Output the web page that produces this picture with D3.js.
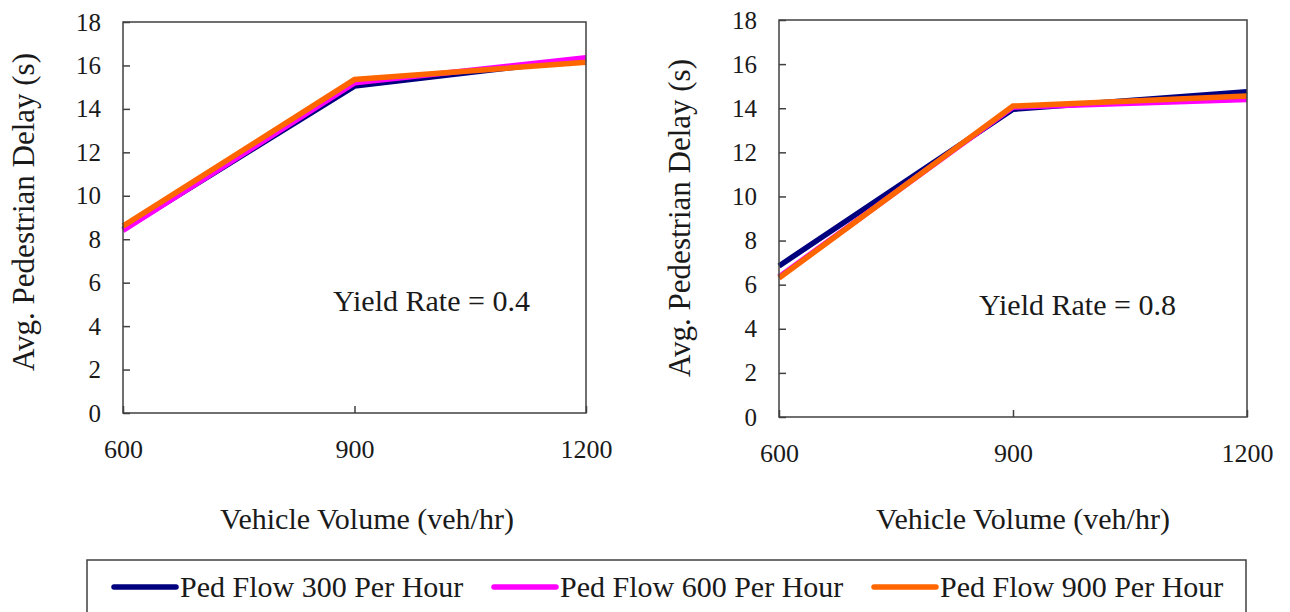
<!DOCTYPE html>
<html>
<head>
<meta charset="utf-8">
<script src="https://cdn.jsdelivr.net/npm/d3@7"></script>
<style>
  body { margin: 0; background: #fff; }
</style>
</head>
<body>
<script>
// data
var volumes = [600, 900, 1200];
var yTicks = [0, 2, 4, 6, 8, 10, 12, 14, 16, 18];
var seriesNames = ["Ped Flow 300 Per Hour", "Ped Flow 600 Per Hour", "Ped Flow 900 Per Hour"];
var seriesColors = ["#00007f", "#ff00ff", "#ff6600"];

// yield rate 0.4
var delay04_300 = [8.45, 15.05, 16.3];
var delay04_600 = [8.4, 15.2, 16.35];
var delay04_900 = [8.6, 15.35, 16.15];

// yield rate 0.8
var delay08_300 = [6.85, 13.95, 14.75];
var delay08_600 = [6.35, 14.05, 14.4];
var delay08_900 = [6.3, 14.1, 14.55];

// page size and font
var w = 1290;
var h = 612;
var serif = "'Liberation Serif', Tinos, 'Times New Roman', Times, 'DejaVu Serif', serif";
var ink = "#1a1a1a";

var svg = d3.select("body")
            .append("svg")
            .attr("width", w)
            .attr("height", h);

// draw one panel
function drawPanel(p) {
  var xScale = d3.scaleLinear()
                 .domain([600, 1200])
                 .range([p.left, p.right]);

  var yScale = d3.scaleLinear()
                 .domain([0, 18])
                 .range([p.bottom, p.top]);

  var g = svg.append("g");

  // lines first so the frame sits on top
  var line = d3.line()
               .x(function(d, i) { return xScale(volumes[i]); })
               .y(function(d) { return yScale(d); });

  for (var i = 0; i < p.series.length; i++) {
    g.append("path")
     .datum(p.series[i])
     .attr("d", line)
     .attr("fill", "none")
     .attr("stroke", seriesColors[i])
     .attr("stroke-width", 5.5);
  }

  // frame
  g.append("rect")
   .attr("x", p.left)
   .attr("y", p.top)
   .attr("width", p.right - p.left)
   .attr("height", p.bottom - p.top)
   .attr("fill", "none")
   .attr("stroke", "#404040")
   .attr("stroke-width", 1.5);

  // y axis, ticks pointing inside
  var yAxis = d3.axisLeft(yScale)
                .tickValues(yTicks)
                .tickSizeInner(-7)
                .tickSizeOuter(0)
                .tickPadding(22);

  var ya = g.append("g")
            .attr("transform", "translate(" + p.left + ",0)")
            .call(yAxis);
  ya.select(".domain").remove();
  ya.selectAll("line").attr("stroke", "#404040").attr("stroke-width", 1.5);
  ya.selectAll("text")
    .style("font-family", serif)
    .style("font-size", "25px")
    .attr("fill", ink);

  // x axis, ticks pointing inside
  var xAxis = d3.axisBottom(xScale)
                .tickValues(volumes)
                .tickSizeInner(-7)
                .tickSizeOuter(0)
                .tickPadding(27)
                .tickFormat(d3.format("d"));

  var xa = g.append("g")
            .attr("transform", "translate(0," + p.bottom + ")")
            .call(xAxis);
  xa.select(".domain").remove();
  xa.selectAll("line").attr("stroke", "#404040").attr("stroke-width", 1.5);
  xa.selectAll("text")
    .style("font-family", serif)
    .style("font-size", "26px")
    .attr("fill", ink);

  // axis titles
  g.append("text")
   .attr("x", p.xTitleX)
   .attr("y", 529)
   .style("text-anchor", "middle")
   .style("font-family", serif)
   .style("font-size", "30px")
   .attr("fill", ink)
   .text("Vehicle Volume (veh/hr)");

  g.append("text")
   .attr("transform", "translate(" + p.yTitleX + "," + p.yTitleY + ") rotate(-90)")
   .style("text-anchor", "middle")
   .style("font-family", serif)
   .style("font-size", "31px")
   .attr("fill", ink)
   .text("Avg. Pedestrian Delay (s)");

  // yield rate note
  g.append("text")
   .attr("x", p.noteX)
   .attr("y", p.noteY)
   .style("font-family", serif)
   .style("font-size", "30px")
   .attr("fill", ink)
   .text(p.note);
}

drawPanel({
  left: 123, right: 586, top: 22, bottom: 413,
  xTitleX: 367, yTitleX: 34, yTitleY: 212,
  noteX: 333, noteY: 311,
  note: "Yield Rate = 0.4",
  series: [delay04_300, delay04_600, delay04_900]
});

drawPanel({
  left: 779, right: 1247, top: 20, bottom: 417,
  xTitleX: 1023, yTitleX: 690, yTitleY: 218,
  noteX: 979, noteY: 315,
  note: "Yield Rate = 0.8",
  series: [delay08_300, delay08_600, delay08_900]
});

// legend box, cut off at the bottom of the page
var legend = svg.append("g");

legend.append("rect")
      .attr("x", 87)
      .attr("y", 560)
      .attr("width", 1159)
      .attr("height", 70)
      .attr("fill", "none")
      .attr("stroke", "#404040")
      .attr("stroke-width", 1.5);

var legendTextX = [180, 560, 940];

for (var n = 0; n < seriesNames.length; n++) {
  legend.append("line")
        .attr("x1", legendTextX[n] - 66)
        .attr("x2", legendTextX[n] - 4)
        .attr("y1", 587)
        .attr("y2", 587)
        .attr("stroke", seriesColors[n])
        .attr("stroke-width", 5.5)
        .attr("stroke-linecap", "round");

  legend.append("text")
        .attr("x", legendTextX[n])
        .attr("y", 597)
        .style("font-family", serif)
        .style("font-size", "30px")
        .attr("fill", ink)
        .text(seriesNames[n]);
}
</script>
</body>
</html>
